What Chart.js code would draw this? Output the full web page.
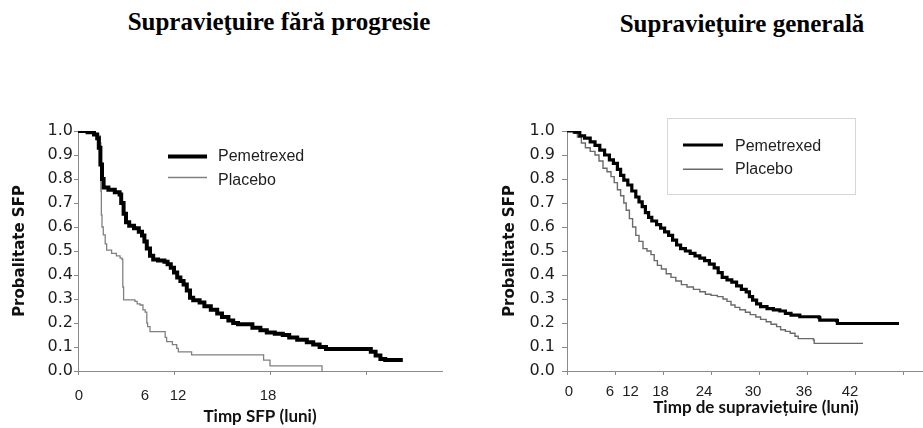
<!DOCTYPE html>
<html><head><meta charset="utf-8">
<script src="https://cdn.jsdelivr.net/npm/chart.js@4.4.1/dist/chart.umd.min.js"></script>
<style>
html,body{margin:0;padding:0;background:#fff;}
#wrap{position:relative;width:923px;height:428px;overflow:hidden;background:#fff;}
canvas{position:absolute;top:0;}
.title{position:absolute;width:420px;text-align:center;font-family:"Liberation Serif","Times New Roman",serif;font-weight:bold;font-size:25px;line-height:25px;color:#000;white-space:nowrap;}
</style></head><body>
<div id="wrap">
<div class="title" style="left:69px;top:9px;">Supravieţuire fără progresie</div>
<div class="title" style="left:532px;top:10.5px;">Supravieţuire generală</div>
<canvas id="c1" width="462" height="428" style="left:0;width:462px;height:428px;"></canvas>
<canvas id="c2" width="461" height="428" style="left:462px;width:461px;height:428px;"></canvas>
</div>
<script>
// ---------- DATA ----------
const seriesNames = ['Pemetrexed', 'Placebo'];

// Left panel: progression-free survival, [time, probability]
const pfsPemetrexed = [[0,1.0],[0.6,0.995],[1.0,0.985],[1.2,0.97],[1.3,0.93],[1.4,0.86],[1.5,0.80],[1.6,0.765],[1.9,0.755],[2.3,0.745],[2.6,0.735],[2.7,0.70],[2.85,0.655],[3.0,0.62],[3.2,0.605],[3.5,0.595],[3.8,0.58],[4.0,0.565],[4.15,0.54],[4.3,0.51],[4.5,0.48],[4.7,0.465],[5.0,0.46],[5.4,0.455],[5.6,0.445],[5.8,0.43],[6.0,0.41],[6.2,0.39],[6.4,0.375],[6.6,0.36],[6.8,0.335],[7.0,0.305],[7.2,0.295],[7.6,0.285],[7.9,0.27],[8.3,0.255],[8.7,0.24],[9.0,0.225],[9.4,0.21],[9.7,0.20],[10.0,0.195],[10.9,0.18],[11.4,0.17],[11.8,0.16],[12.3,0.155],[12.8,0.15],[13.2,0.14],[13.7,0.13],[14.3,0.12],[14.7,0.11],[15.1,0.10],[15.5,0.092],[18.0,0.092],[18.3,0.08],[18.6,0.065],[18.9,0.05],[19.2,0.046],[20.3,0.046]];
const pfsPlacebo = [[0,1.0],[0.5,0.995],[0.9,0.99],[1.2,0.98],[1.4,0.95],[1.43,0.75],[1.46,0.65],[1.5,0.60],[1.58,0.567],[1.7,0.53],[1.79,0.504],[2.1,0.49],[2.4,0.48],[2.63,0.47],[2.75,0.465],[2.8,0.35],[2.85,0.296],[3.56,0.29],[3.7,0.28],[3.88,0.275],[4.06,0.255],[4.2,0.245],[4.3,0.20],[4.35,0.185],[4.5,0.164],[5.45,0.14],[5.54,0.122],[5.9,0.11],[6.17,0.094],[6.27,0.08],[7.1,0.067],[11.6,0.045],[12.0,0.021],[15.25,0.0]];

// Right panel: overall survival, [time, probability]
const osPemetrexed = [[0,1.0],[1.0,0.995],[1.6,0.98],[2.2,0.97],[2.9,0.955],[3.5,0.94],[4.1,0.92],[4.7,0.90],[5.3,0.88],[5.8,0.865],[6.3,0.84],[6.7,0.815],[7.1,0.795],[7.6,0.775],[8.1,0.75],[8.6,0.725],[9.0,0.705],[9.4,0.685],[9.8,0.66],[10.2,0.64],[10.6,0.625],[11.2,0.61],[11.7,0.595],[12.2,0.58],[12.7,0.565],[13.2,0.545],[13.7,0.525],[14.2,0.51],[14.8,0.50],[15.4,0.49],[16.0,0.48],[16.6,0.47],[17.2,0.46],[17.8,0.445],[18.4,0.43],[18.9,0.41],[19.4,0.39],[20.0,0.38],[20.6,0.37],[21.2,0.355],[21.8,0.34],[22.4,0.33],[22.8,0.31],[23.2,0.295],[23.7,0.28],[24.2,0.268],[25.0,0.26],[25.8,0.255],[26.6,0.25],[27.3,0.24],[28.0,0.233],[29.1,0.226],[31.5,0.222],[31.6,0.212],[33.7,0.21],[33.8,0.198],[41.5,0.198]];
const osPlacebo = [[0,1.0],[0.8,0.99],[1.3,0.975],[1.8,0.95],[2.3,0.93],[2.9,0.915],[3.5,0.90],[4.0,0.875],[4.5,0.845],[5.0,0.83],[5.5,0.81],[5.9,0.785],[6.3,0.755],[6.7,0.73],[7.1,0.70],[7.4,0.67],[7.8,0.635],[8.2,0.60],[8.6,0.565],[9.0,0.54],[9.5,0.51],[10.0,0.50],[10.5,0.485],[10.9,0.46],[11.3,0.44],[11.8,0.425],[12.4,0.405],[13.0,0.39],[13.6,0.375],[14.3,0.36],[15.0,0.35],[15.8,0.34],[16.6,0.33],[17.3,0.32],[18.0,0.315],[18.8,0.31],[19.5,0.30],[20.0,0.29],[20.5,0.275],[21.0,0.265],[21.6,0.255],[22.3,0.245],[22.9,0.235],[23.6,0.225],[24.2,0.215],[24.9,0.205],[25.5,0.195],[26.2,0.185],[26.7,0.172],[27.3,0.165],[27.9,0.157],[28.5,0.145],[28.9,0.135],[30.8,0.129],[30.9,0.115],[37.0,0.115]];

// Axis ticks
const yTickValues = [0,0.1,0.2,0.3,0.4,0.5,0.6,0.7,0.8,0.9,1.0];
const yTickLabels = ['0.0','0.1','0.2','0.3','0.4','0.5','0.6','0.7','0.8','0.9','1.0'];
const pfsTickMarks = [0,6,12,18];
const pfsTickLabels = ['0','6','12','18'];
const pfsTickLabelAt = [0.06,4.19,6.25,11.875];
const osTickMarks = [0,6,12,18,24,30,36,42];
const osTickLabels = ['0','6','12','18','24','30','36','42'];
const osTickLabelAt = [0.25,5.375,7.94,11.69,17.125,23.25,29.625,35.375];

// ---------- CHART ----------
const axisColor = '#8a8a8a';
const textColor = '#1e1e1e';

function xTicks(marks, labels, at) {
  const t = marks.map(v => ({value: v, mark: true, text: ''}))
    .concat(at.map((v, i) => ({value: v, mark: false, text: labels[i]})));
  t.sort((a, b) => a.value - b.value);
  return t;
}
function yTicks() {
  return yTickValues.map((v, i) => ({value: v, mark: true, text: yTickLabels[i]}));
}
function pts(arr) { return arr.map(p => ({x: p[0], y: p[1]})); }

const overlay = {
  id: 'overlay',
  afterDraw(chart, args, o) {
    const ctx = chart.ctx;
    ctx.save();
    if (o.box) {
      ctx.strokeStyle = o.box.color; ctx.lineWidth = 1;
      ctx.strokeRect(o.box.x + 0.5, o.box.y + 0.5, o.box.w, o.box.h);
    }
    chart.data.datasets.forEach((ds, i) => {
      const it = o.items[i];
      ctx.strokeStyle = ds.borderColor; ctx.lineWidth = ds.borderWidth;
      ctx.beginPath(); ctx.moveTo(it.x1, it.y); ctx.lineTo(it.x2, it.y); ctx.stroke();
      ctx.fillStyle = textColor; ctx.font = o.font; ctx.textBaseline = 'alphabetic'; ctx.textAlign = 'left';
      ctx.fillText(ds.label, it.tx, it.ty);
    });
    ctx.font = o.xTitle.font; ctx.fillStyle = '#111'; ctx.textAlign = 'center'; ctx.textBaseline = 'alphabetic';
    ctx.fillText(o.xTitle.text, o.xTitle.x, o.xTitle.y);
    ctx.restore();
  }
};

function makeChart(id, p) {
  return new Chart(document.getElementById(id), {
    type: 'line',
    data: { datasets: [
      {label: seriesNames[0], data: pts(p.pem), borderColor: '#000', borderWidth: p.pemWidth, stepped: true, pointRadius: 0, fill: false},
      {label: seriesNames[1], data: pts(p.plc), borderColor: p.plcColor, borderWidth: p.plcWidth, stepped: true, pointRadius: 0, fill: false}
    ]},
    options: {
      responsive: false, animation: false, events: [],
      layout: { padding: {top: 131, right: p.padRight, left: 0, bottom: 0} },
      plugins: { legend: {display: false}, tooltip: {enabled: false}, overlay: p.overlay },
      scales: {
        x: {
          type: 'linear', min: 0, max: p.xMax,
          afterBuildTicks: s => { s.ticks = xTicks(p.marks, p.labels, p.at); },
          afterFit: s => { s.height = 57; },
          ticks: { autoSkip: false, maxRotation: 0, minRotation: 0, padding: p.xPad,
            callback: (v, i, t) => (t[i] && t[i].text) || '',
            font: {family: '"Liberation Sans", Arial, sans-serif', size: 15}, color: textColor },
          grid: { drawOnChartArea: false, tickLength: 4, tickWidth: 1,
            tickColor: c => (c.tick && c.tick.mark) ? axisColor : 'rgba(0,0,0,0)' },
          border: { color: axisColor, width: 1 }
        },
        y: {
          min: 0, max: 1,
          afterBuildTicks: s => { s.ticks = yTicks(); },
          afterFit: s => { s.width = p.yWidth; },
          ticks: { padding: p.yPad, callback: (v, i, t) => (t[i] && t[i].text) || '',
            font: {family: '"DejaVu Sans", Verdana, sans-serif', size: 16}, color: textColor },
          grid: { drawOnChartArea: false, tickLength: p.yTick, tickColor: axisColor },
          border: { color: axisColor, width: 1 },
          title: { display: true, text: 'Probalitate SFP', color: '#111',
            font: {family: '"DejaVu Sans", Verdana, sans-serif', size: 15, weight: 'bold'},
            padding: {top: p.yTitlePad, bottom: 0} }
        }
      }
    },
    plugins: [overlay]
  });
}

makeChart('c1', {
  pem: pfsPemetrexed, plc: pfsPlacebo, pemWidth: 4, plcWidth: 1.3, plcColor: '#808080',
  xMax: 22.8, padRight: 19.2, marks: pfsTickMarks, labels: pfsTickLabels, at: pfsTickLabelAt,
  xPad: 11.5, yWidth: 78, yPad: 1, yTick: 4, yTitlePad: 10.7,
  overlay: {
    font: '16px "Liberation Sans", Arial, sans-serif',
    items: [{x1: 168, x2: 207, y: 156.5, tx: 218, ty: 160.7}, {x1: 168, x2: 207, y: 177.5, tx: 218, ty: 185}],
    xTitle: {text: 'Timp SFP (luni)', x: 260, y: 422.3, font: 'bold 17px Lato, "Liberation Sans", sans-serif'}
  }
});

makeChart('c2', {
  pem: osPemetrexed, plc: osPlacebo, pemWidth: 3.2, plcWidth: 1.4, plcColor: '#6a6a6a',
  xMax: 44.5, padRight: 0, marks: osTickMarks, labels: osTickLabels, at: osTickLabelAt,
  xPad: 7.5, yWidth: 105, yPad: 7, yTick: 5, yTitlePad: 39,
  overlay: {
    font: '16px "Liberation Sans", Arial, sans-serif',
    box: {x: 205, y: 118, w: 188, h: 76, color: '#d6d6d6'},
    items: [{x1: 221, x2: 261, y: 145, tx: 273, ty: 150.7}, {x1: 221, x2: 261, y: 169.3, tx: 273, ty: 174}],
    xTitle: {text: 'Timp de supraviețuire (luni)', x: 294, y: 413.3, font: 'bold 17px Lato, "Liberation Sans", sans-serif'}
  }
});
</script>
</body></html>
